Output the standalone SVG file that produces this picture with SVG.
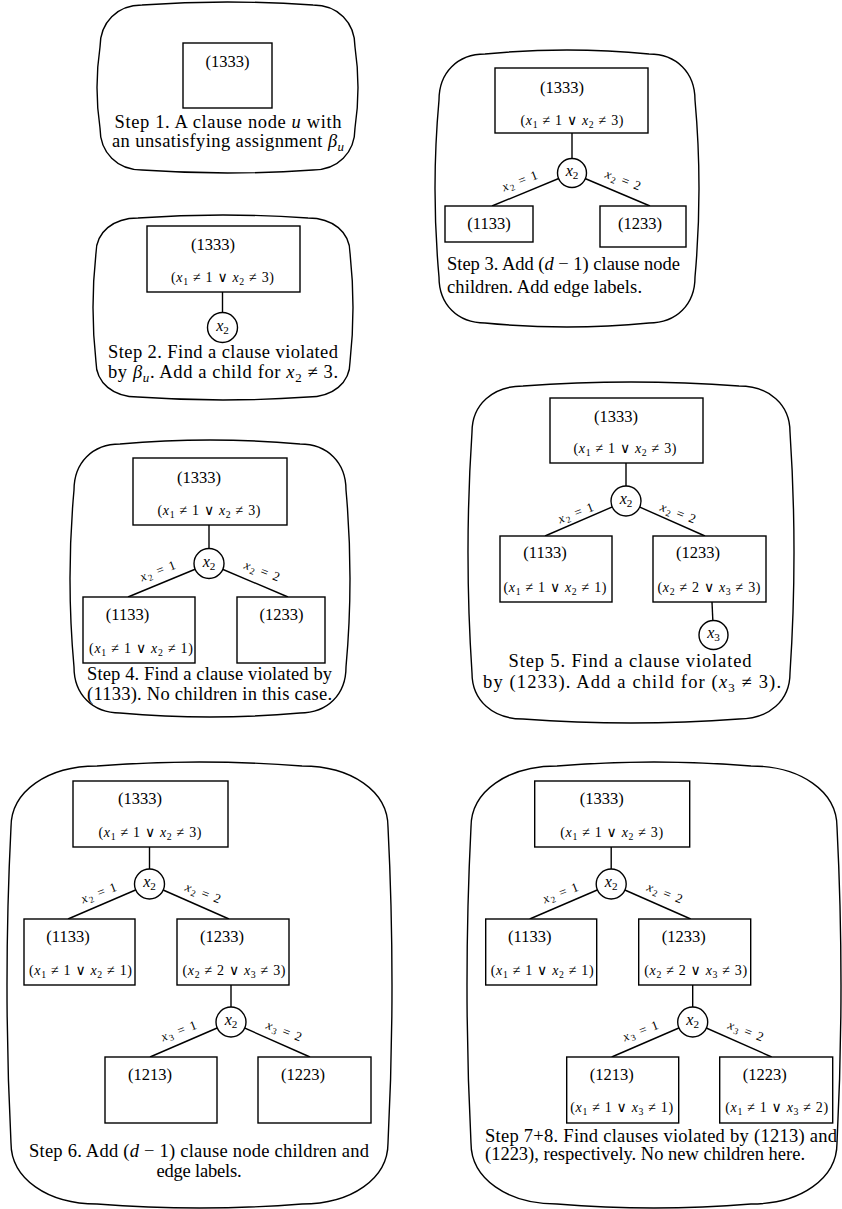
<svg xmlns="http://www.w3.org/2000/svg" width="842" height="1209" viewBox="0 0 842 1209">
<style>
text{font-family:"Liberation Serif","DejaVu Serif",serif;fill:#000}
.ol{fill:none;stroke:#000;stroke-width:1.4}
.bx{fill:#fff;stroke:#000;stroke-width:1.4}
.ci{fill:#fff;stroke:#000;stroke-width:1.4}
.ed line{stroke:#000;stroke-width:1.4}
.lb{font-size:16.5px;text-anchor:middle}
.cl{font-size:14px;text-anchor:middle}
.cap{font-size:18.5px}
.mid{text-anchor:middle}
.el{font-size:13px;text-anchor:middle}
.vn{font-size:16px;text-anchor:middle}
.i{font-style:italic}
.s{font-size:70%}
</style>
<rect width="842" height="1209" fill="#fff"/>

<!-- Panel 1 -->
<g id="panel1">
<path class="ol" d="M 142,5 Q 227.5,-1 313,5 C 337.75,5 355,22.25 355,47 Q 361,87.5 355,128 C 355,152.75 337.75,170 313,170 Q 227.5,176 142,170 C 117.25,170 100,152.75 100,128 Q 94,87.5 100,47 C 100,22.25 117.25,5 142,5 Z"/>
<g id="p1-n1333"><rect class="bx" x="183" y="43" width="89" height="65"/><text class="lb" x="227.5" y="67">(1333)</text></g>
<text class="cap mid" x="228" y="128" textLength="227">Step 1. A clause node <tspan class="i">u</tspan> with</text>
<text class="cap mid" x="228" y="147" textLength="232">an unsatisfying assignment <tspan class="i">β</tspan><tspan class="s i" dy="4">u</tspan></text>
</g>

<!-- Panel 2 -->
<g id="panel2">
<path class="ol" d="M 138,218 Q 223,212 308,218 C 332.75,218 350,232.1 350,253 Q 356,307.5 350,362 C 350,382.9 332.75,397 308,397 Q 223,403 138,397 C 113.25,397 96,382.9 96,362 Q 90,307.5 96,253 C 96,232.1 113.25,218 138,218 Z"/>
<g id="p2-edges" class="ed"><line x1="222.5" y1="292" x2="222.5" y2="327.5"/></g>
<g id="p2-n1333"><rect class="bx" x="147" y="226" width="153" height="66"/><text class="lb" x="213" y="250">(1333)</text>
<text class="cl" x="222.5" y="282" textLength="103">(<tspan class="i">x</tspan><tspan class="s" dy="3">1</tspan><tspan dy="-3"> ≠ 1 ∨ </tspan><tspan class="i">x</tspan><tspan class="s" dy="3">2</tspan><tspan dy="-3"> ≠ 3)</tspan></text></g>
<g id="p2-v1"><circle class="ci" cx="222.5" cy="327.5" r="15"/><text class="vn" x="222.5" y="330.5"><tspan class="i">x</tspan><tspan class="s" dy="3">2</tspan></text></g>
<text class="cap mid" x="223" y="358" textLength="230">Step 2. Find a clause violated</text>
<text class="cap mid" x="223" y="378" textLength="230">by <tspan class="i">β</tspan><tspan class="s i" dy="4">u</tspan><tspan dy="-4">. Add a child for </tspan><tspan class="i">x</tspan><tspan class="s" dy="4">2</tspan><tspan dy="-4"> ≠ 3.</tspan></text>
</g>

<!-- Panel 3 -->
<g id="panel3">
<path class="ol" d="M 485,54 Q 567,46 649,54 C 676.5,54 695,72.5 695,100 Q 703,188.5 695,277 C 695,304.5 676.5,323 649,323 Q 567,331 485,323 C 457.5,323 439,304.5 439,277 Q 431,188.5 439,100 C 439,72.5 457.5,54 485,54 Z"/>
<g id="p3-edges" class="ed">
<line x1="572" y1="133" x2="572" y2="173"/>
<line x1="572" y1="173" x2="492" y2="206"/>
<line x1="572" y1="173" x2="650" y2="206"/>
<text class="el" transform="translate(521,184) rotate(-21)" y="1" textLength="37"><tspan class="i">x</tspan><tspan class="s" dy="2.5">2</tspan><tspan dy="-2.5"> = 1</tspan></text>
<text class="el" transform="translate(622,183) rotate(21)" y="1" textLength="37"><tspan class="i">x</tspan><tspan class="s" dy="2.5">2</tspan><tspan dy="-2.5"> = 2</tspan></text>
</g>
<g id="p3-n1333"><rect class="bx" x="495" y="68" width="153" height="65"/><text class="lb" x="562" y="93">(1333)</text>
<text class="cl" x="572" y="125" textLength="103">(<tspan class="i">x</tspan><tspan class="s" dy="3">1</tspan><tspan dy="-3"> ≠ 1 ∨ </tspan><tspan class="i">x</tspan><tspan class="s" dy="3">2</tspan><tspan dy="-3"> ≠ 3)</tspan></text></g>
<g id="p3-v1"><circle class="ci" cx="572" cy="173" r="14.5"/><text class="vn" x="572" y="176"><tspan class="i">x</tspan><tspan class="s" dy="3">2</tspan></text></g>
<g id="p3-n1133"><rect class="bx" x="445" y="206" width="88" height="36"/><text class="lb" x="489" y="229">(1133)</text></g>
<g id="p3-n1233"><rect class="bx" x="600" y="206" width="86" height="41"/><text class="lb" x="640" y="229">(1233)</text></g>
<text class="cap" x="447" y="270" textLength="233">Step 3. Add (<tspan class="i">d</tspan> − 1) clause node</text>
<text class="cap" x="447" y="293" textLength="195">children. Add edge labels.</text>
</g>

<!-- Panel 4 -->
<g id="panel4">
<path class="ol" d="M 120,444 Q 210,436 300,444 C 327.5,444 346,462.5 346,490 Q 354,578.5 346,667 C 346,694.5 327.5,713 300,713 Q 210,721 120,713 C 92.5,713 74,694.5 74,667 Q 66,578.5 74,490 C 74,462.5 92.5,444 120,444 Z"/>
<g id="p4-edges" class="ed">
<line x1="209" y1="525" x2="209" y2="563.5"/>
<line x1="209" y1="563.5" x2="128" y2="597"/>
<line x1="209" y1="563.5" x2="288" y2="597"/>
<text class="el" transform="translate(159,574) rotate(-21)" y="1" textLength="37"><tspan class="i">x</tspan><tspan class="s" dy="2.5">2</tspan><tspan dy="-2.5"> = 1</tspan></text>
<text class="el" transform="translate(261,574) rotate(21)" y="1" textLength="37"><tspan class="i">x</tspan><tspan class="s" dy="2.5">2</tspan><tspan dy="-2.5"> = 2</tspan></text>
</g>
<g id="p4-n1333"><rect class="bx" x="133" y="458" width="154" height="67"/><text class="lb" x="199" y="483">(1333)</text>
<text class="cl" x="209" y="515" textLength="103">(<tspan class="i">x</tspan><tspan class="s" dy="3">1</tspan><tspan dy="-3"> ≠ 1 ∨ </tspan><tspan class="i">x</tspan><tspan class="s" dy="3">2</tspan><tspan dy="-3"> ≠ 3)</tspan></text></g>
<g id="p4-v1"><circle class="ci" cx="209" cy="563.5" r="15"/><text class="vn" x="209" y="566.5"><tspan class="i">x</tspan><tspan class="s" dy="3">2</tspan></text></g>
<g id="p4-n1133"><rect class="bx" x="83" y="597" width="112" height="66"/><text class="lb" x="127.5" y="620">(1133)</text>
<text class="cl" x="141" y="653" textLength="104">(<tspan class="i">x</tspan><tspan class="s" dy="3">1</tspan><tspan dy="-3"> ≠ 1 ∨ </tspan><tspan class="i">x</tspan><tspan class="s" dy="3">2</tspan><tspan dy="-3"> ≠ 1)</tspan></text></g>
<g id="p4-n1233"><rect class="bx" x="237" y="597" width="88" height="66"/><text class="lb" x="281.5" y="620">(1233)</text></g>
<text class="cap mid" x="209.5" y="680" textLength="245">Step 4. Find a clause violated by</text>
<text class="cap mid" x="209.5" y="700" textLength="245">(1133). No children in this case.</text>
</g>

<!-- Panel 5 -->
<g id="panel5">
<path class="ol" d="M 523,386 Q 631,378 739,386 C 769.25,386 790,404.5 790,432 Q 798,552.5 790,673 C 790,700.5 769.25,719 739,719 Q 631,727 523,719 C 492.75,719 472,700.5 472,673 Q 464,552.5 472,432 C 472,404.5 492.75,386 523,386 Z"/>
<g id="p5-edges" class="ed">
<line x1="626" y1="463" x2="626" y2="501"/>
<line x1="626" y1="501" x2="545" y2="536"/>
<line x1="626" y1="501" x2="705" y2="536"/>
<line x1="712" y1="602" x2="713.5" y2="635"/>
<text class="el" transform="translate(577,516) rotate(-21)" y="1" textLength="37"><tspan class="i">x</tspan><tspan class="s" dy="2.5">2</tspan><tspan dy="-2.5"> = 1</tspan></text>
<text class="el" transform="translate(677,516) rotate(21)" y="1" textLength="37"><tspan class="i">x</tspan><tspan class="s" dy="2.5">2</tspan><tspan dy="-2.5"> = 2</tspan></text>
</g>
<g id="p5-n1333"><rect class="bx" x="550" y="398" width="153" height="65"/><text class="lb" x="616" y="422">(1333)</text>
<text class="cl" x="625" y="453" textLength="103">(<tspan class="i">x</tspan><tspan class="s" dy="3">1</tspan><tspan dy="-3"> ≠ 1 ∨ </tspan><tspan class="i">x</tspan><tspan class="s" dy="3">2</tspan><tspan dy="-3"> ≠ 3)</tspan></text></g>
<g id="p5-v1"><circle class="ci" cx="626" cy="501" r="15"/><text class="vn" x="626" y="504"><tspan class="i">x</tspan><tspan class="s" dy="3">2</tspan></text></g>
<g id="p5-n1133"><rect class="bx" x="500" y="536" width="112" height="66"/><text class="lb" x="545" y="558">(1133)</text>
<text class="cl" x="555" y="592" textLength="103">(<tspan class="i">x</tspan><tspan class="s" dy="3">1</tspan><tspan dy="-3"> ≠ 1 ∨ </tspan><tspan class="i">x</tspan><tspan class="s" dy="3">2</tspan><tspan dy="-3"> ≠ 1)</tspan></text></g>
<g id="p5-n1233"><rect class="bx" x="653" y="536" width="113" height="66"/><text class="lb" x="698" y="558">(1233)</text>
<text class="cl" x="709" y="592" textLength="103">(<tspan class="i">x</tspan><tspan class="s" dy="3">2</tspan><tspan dy="-3"> ≠ 2 ∨ </tspan><tspan class="i">x</tspan><tspan class="s" dy="3">3</tspan><tspan dy="-3"> ≠ 3)</tspan></text></g>
<g id="p5-v2"><circle class="ci" cx="713.5" cy="635" r="14.5"/><text class="vn" x="713.5" y="638"><tspan class="i">x</tspan><tspan class="s" dy="3">3</tspan></text></g>
<text class="cap mid" x="630" y="667" textLength="243">Step 5. Find a clause violated</text>
<text class="cap mid" x="632" y="688" textLength="298">by (1233). Add a child for (<tspan class="i">x</tspan><tspan class="s" dy="4">3</tspan><tspan dy="-4"> ≠ 3).</tspan></text>
</g>

<!-- Panel 6 -->
<g id="panel6">
<path class="ol" d="M 97,766 Q 199.5,758 302,766 C 351.5,766 388,791.25 388,827 Q 396,985 388,1143 C 388,1178.75 351.5,1204 302,1204 Q 199.5,1212 97,1204 C 47.5,1204 11,1178.75 11,1143 Q 3,985 11,827 C 11,791.25 47.5,766 97,766 Z"/>
<g id="p6-edges" class="ed">
<line x1="149.5" y1="847" x2="149.5" y2="884"/>
<line x1="149.5" y1="884" x2="68" y2="919"/>
<line x1="149.5" y1="884" x2="229" y2="919"/>
<line x1="231" y1="985" x2="231" y2="1022"/>
<line x1="231" y1="1022" x2="150" y2="1057"/>
<line x1="231" y1="1022" x2="310" y2="1057"/>
<text class="el" transform="translate(100,896) rotate(-21)" y="1" textLength="37"><tspan class="i">x</tspan><tspan class="s" dy="2.5">2</tspan><tspan dy="-2.5"> = 1</tspan></text>
<text class="el" transform="translate(202,896) rotate(21)" y="1" textLength="37"><tspan class="i">x</tspan><tspan class="s" dy="2.5">2</tspan><tspan dy="-2.5"> = 2</tspan></text>
<text class="el" transform="translate(180,1034) rotate(-21)" y="1" textLength="37"><tspan class="i">x</tspan><tspan class="s" dy="2.5">3</tspan><tspan dy="-2.5"> = 1</tspan></text>
<text class="el" transform="translate(283,1034) rotate(21)" y="1" textLength="37"><tspan class="i">x</tspan><tspan class="s" dy="2.5">3</tspan><tspan dy="-2.5"> = 2</tspan></text>
</g>
<g id="p6-n1333"><rect class="bx" x="73" y="781" width="155" height="66"/><text class="lb" x="140" y="804">(1333)</text>
<text class="cl" x="150" y="837" textLength="103">(<tspan class="i">x</tspan><tspan class="s" dy="3">1</tspan><tspan dy="-3"> ≠ 1 ∨ </tspan><tspan class="i">x</tspan><tspan class="s" dy="3">2</tspan><tspan dy="-3"> ≠ 3)</tspan></text></g>
<g id="p6-v1"><circle class="ci" cx="149.5" cy="884" r="15"/><text class="vn" x="149.5" y="887"><tspan class="i">x</tspan><tspan class="s" dy="3">2</tspan></text></g>
<g id="p6-n1133"><rect class="bx" x="24" y="919" width="111" height="66"/><text class="lb" x="68" y="942">(1133)</text>
<text class="cl" x="80.5" y="975" textLength="103">(<tspan class="i">x</tspan><tspan class="s" dy="3">1</tspan><tspan dy="-3"> ≠ 1 ∨ </tspan><tspan class="i">x</tspan><tspan class="s" dy="3">2</tspan><tspan dy="-3"> ≠ 1)</tspan></text></g>
<g id="p6-n1233"><rect class="bx" x="177" y="919" width="112" height="66"/><text class="lb" x="222" y="942">(1233)</text>
<text class="cl" x="234" y="975" textLength="103">(<tspan class="i">x</tspan><tspan class="s" dy="3">2</tspan><tspan dy="-3"> ≠ 2 ∨ </tspan><tspan class="i">x</tspan><tspan class="s" dy="3">3</tspan><tspan dy="-3"> ≠ 3)</tspan></text></g>
<g id="p6-v2"><circle class="ci" cx="231" cy="1022" r="15"/><text class="vn" x="231" y="1025"><tspan class="i">x</tspan><tspan class="s" dy="3">2</tspan></text></g>
<g id="p6-n1213"><rect class="bx" x="105" y="1057" width="112" height="66"/><text class="lb" x="150" y="1080">(1213)</text></g>
<g id="p6-n1223"><rect class="bx" x="258" y="1057" width="113" height="66"/><text class="lb" x="303" y="1080">(1223)</text></g>
<text class="cap mid" x="199" y="1157" textLength="340">Step 6. Add (<tspan class="i">d</tspan> − 1) clause node children and</text>
<text class="cap mid" x="199" y="1177" textLength="85">edge labels.</text>
</g>

<!-- Panel 7 -->
<g id="panel7">
<path class="ol" d="M 557,766 Q 654,758 751,766 C 800.5,766 837,791.25 837,827 Q 845,985 837,1143 C 837,1178.75 800.5,1204 751,1204 Q 654,1212 557,1204 C 507.5,1204 471,1178.75 471,1143 Q 463,985 471,827 C 471,791.25 507.5,766 557,766 Z"/>
<g transform="translate(461.7,0)">
<g id="p7-edges" class="ed">
<line x1="149.5" y1="847" x2="149.5" y2="884"/>
<line x1="149.5" y1="884" x2="68" y2="919"/>
<line x1="149.5" y1="884" x2="229" y2="919"/>
<line x1="231" y1="985" x2="231" y2="1022"/>
<line x1="231" y1="1022" x2="150" y2="1057"/>
<line x1="231" y1="1022" x2="310" y2="1057"/>
<text class="el" transform="translate(100,896) rotate(-21)" y="1" textLength="37"><tspan class="i">x</tspan><tspan class="s" dy="2.5">2</tspan><tspan dy="-2.5"> = 1</tspan></text>
<text class="el" transform="translate(202,896) rotate(21)" y="1" textLength="37"><tspan class="i">x</tspan><tspan class="s" dy="2.5">2</tspan><tspan dy="-2.5"> = 2</tspan></text>
<text class="el" transform="translate(180,1034) rotate(-21)" y="1" textLength="37"><tspan class="i">x</tspan><tspan class="s" dy="2.5">3</tspan><tspan dy="-2.5"> = 1</tspan></text>
<text class="el" transform="translate(283,1034) rotate(21)" y="1" textLength="37"><tspan class="i">x</tspan><tspan class="s" dy="2.5">3</tspan><tspan dy="-2.5"> = 2</tspan></text>
</g>
<g id="p7-n1333"><rect class="bx" x="73" y="781" width="155" height="66"/><text class="lb" x="140" y="804">(1333)</text>
<text class="cl" x="150" y="837" textLength="103">(<tspan class="i">x</tspan><tspan class="s" dy="3">1</tspan><tspan dy="-3"> ≠ 1 ∨ </tspan><tspan class="i">x</tspan><tspan class="s" dy="3">2</tspan><tspan dy="-3"> ≠ 3)</tspan></text></g>
<g id="p7-v1"><circle class="ci" cx="149.5" cy="884" r="15"/><text class="vn" x="149.5" y="887"><tspan class="i">x</tspan><tspan class="s" dy="3">2</tspan></text></g>
<g id="p7-n1133"><rect class="bx" x="24" y="919" width="111" height="66"/><text class="lb" x="68" y="942">(1133)</text>
<text class="cl" x="80.5" y="975" textLength="103">(<tspan class="i">x</tspan><tspan class="s" dy="3">1</tspan><tspan dy="-3"> ≠ 1 ∨ </tspan><tspan class="i">x</tspan><tspan class="s" dy="3">2</tspan><tspan dy="-3"> ≠ 1)</tspan></text></g>
<g id="p7-n1233"><rect class="bx" x="177" y="919" width="112" height="66"/><text class="lb" x="222" y="942">(1233)</text>
<text class="cl" x="234" y="975" textLength="103">(<tspan class="i">x</tspan><tspan class="s" dy="3">2</tspan><tspan dy="-3"> ≠ 2 ∨ </tspan><tspan class="i">x</tspan><tspan class="s" dy="3">3</tspan><tspan dy="-3"> ≠ 3)</tspan></text></g>
<g id="p7-v2"><circle class="ci" cx="231" cy="1022" r="15"/><text class="vn" x="231" y="1025"><tspan class="i">x</tspan><tspan class="s" dy="3">2</tspan></text></g>
<g id="p7-n1213"><rect class="bx" x="105" y="1057" width="112" height="66"/><text class="lb" x="150" y="1080">(1213)</text>
<text class="cl" x="160" y="1112" textLength="103">(<tspan class="i">x</tspan><tspan class="s" dy="3">1</tspan><tspan dy="-3"> ≠ 1 ∨ </tspan><tspan class="i">x</tspan><tspan class="s" dy="3">3</tspan><tspan dy="-3"> ≠ 1)</tspan></text></g>
<g id="p7-n1223"><rect class="bx" x="258" y="1057" width="113" height="66"/><text class="lb" x="303" y="1080">(1223)</text>
<text class="cl" x="315" y="1112" textLength="103">(<tspan class="i">x</tspan><tspan class="s" dy="3">1</tspan><tspan dy="-3"> ≠ 1 ∨ </tspan><tspan class="i">x</tspan><tspan class="s" dy="3">3</tspan><tspan dy="-3"> ≠ 2)</tspan></text></g>
</g>
<text class="cap" x="485" y="1142" textLength="352">Step 7+8. Find clauses violated by (1213) and</text>
<text class="cap" x="485" y="1160" textLength="320">(1223), respectively. No new children here.</text>
</g>
</svg>
